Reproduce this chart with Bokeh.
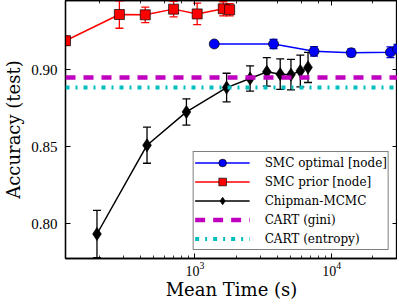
from bokeh.plotting import figure
from bokeh.models import (Range1d, LogAxis, LinearAxis, Whisker, TeeHead, ColumnDataSource,
                          Span, Legend, LegendItem, SingleIntervalTicker, NumeralTickFormatter)
from bokeh.embed import file_html
from bokeh.resources import INLINE

# ---- data ----
smc_opt_time = [1384, 3758, 7430, 13900, 26900, 30300]
smc_opt_acc = [0.9168, 0.9168, 0.9120, 0.9111, 0.9114, 0.9135]
smc_opt_err = [0.0015, 0.003, 0.003, 0.0025, 0.0035, 0.003]

smc_prior_time = [113, 280, 433, 698, 1038, 1611, 1794]
smc_prior_acc = [0.9189, 0.9359, 0.9357, 0.9394, 0.9363, 0.9396, 0.9390]
smc_prior_err = [0.003, 0.0089, 0.005, 0.005, 0.007, 0.0046, 0.004]

chip_time = [192, 446, 866, 1704, 2530, 3355, 4203, 5037, 5897, 6714]
chip_acc = [0.7935, 0.8511, 0.8727, 0.8885, 0.8944, 0.8987, 0.8972, 0.8969, 0.8993, 0.9016]
chip_err = [0.0153, 0.0117, 0.0085, 0.0093, 0.0082, 0.0092, 0.0099, 0.0099, 0.0103, 0.0098]

cart_gini = 0.895
cart_entropy = 0.8885

labels = ["SMC optimal [node]", "SMC prior [node]", "Chipman-MCMC", "CART (gini)", "CART (entropy)"]

TICK_FONT = "Liberation Serif"
LABEL_FONT = "DejaVu Serif"

p = figure(width=397, height=302, x_axis_type="log",
           x_range=Range1d(113, 30300), y_range=Range1d(0.7776, 0.945),
           output_backend="svg", toolbar_location=None,
           min_border_left=58, min_border_right=0, min_border_top=0, min_border_bottom=40,
           background_fill_color="white", border_fill_color="white")
p.xgrid.visible = False
p.ygrid.visible = False
p.outline_line_color = "black"
p.outline_line_width = 1.3

p.xaxis.axis_label = "Mean Time (s)"
p.yaxis.axis_label = "Accuracy (test)"
p.yaxis.ticker = SingleIntervalTicker(interval=0.05, num_minor_ticks=0)
p.yaxis.formatter = NumeralTickFormatter(format="0.00")

def style_axis(ax, labels_on=True):
    ax.axis_line_color = "black"
    ax.axis_line_width = 1.3
    ax.major_tick_in = 5
    ax.major_tick_out = 0
    ax.minor_tick_in = 3
    ax.minor_tick_out = 0
    ax.major_tick_line_color = "black"
    ax.minor_tick_line_color = "black"
    ax.major_tick_line_width = 1.0
    ax.minor_tick_line_width = 0.8
    if labels_on:
        ax.major_label_text_font = TICK_FONT
        ax.major_label_text_color = "black"
        ax.axis_label_text_font = LABEL_FONT
        ax.axis_label_text_font_style = "normal"
        ax.axis_label_text_color = "black"
        ax.axis_label_text_font_size = "18px"
    else:
        ax.major_label_text_font_size = "1px"
        ax.major_label_text_alpha = 0.0
        ax.major_label_standoff = 0
        ax.axis_label_standoff = 0

for ax in p.xaxis:
    style_axis(ax)
    ax.major_label_text_font_size = "14px"
    ax.major_label_standoff = 3
    ax.axis_label_standoff = 0
for ax in p.yaxis:
    style_axis(ax)
    ax.major_label_text_font_size = "15px"
    ax.major_label_standoff = 8
    ax.axis_label_standoff = 4

top_ax = LogAxis()
style_axis(top_ax, labels_on=False)
p.add_layout(top_ax, "above")
right_ax = LinearAxis(ticker=SingleIntervalTicker(interval=0.05, num_minor_ticks=0))
style_axis(right_ax, labels_on=False)
p.add_layout(right_ax, "right")

# ---- CART reference lines ----
MAG = "#bf00bf"
CYAN = "#00bfbf"
p.add_layout(Span(location=cart_gini, dimension="width", line_color=MAG, line_width=4.5,
                  line_dash="10 8", line_cap="butt"))
p.add_layout(Span(location=cart_entropy, dimension="width", line_color=CYAN, line_width=4,
                  line_dash="4 6 2 6", line_cap="butt"))
gini_leg = p.line(x=[cart_gini], y=[cart_gini], line_color=MAG, line_width=4.5,
                  line_dash="10 8", line_cap="butt")
ent_leg = p.line(x=[cart_entropy], y=[cart_entropy], line_color=CYAN, line_width=4,
                 line_dash="4 6 2 6", line_cap="butt")

def series(t, a, e, color, marker, size, fill):
    src = ColumnDataSource(dict(t=t, a=a, up=[v + d for v, d in zip(a, e)],
                                lo=[v - d for v, d in zip(a, e)]))
    w = Whisker(source=src, base="t", upper="up", lower="lo", dimension="height",
                line_color=color, line_width=1.3, level="underlay",
                upper_head=TeeHead(size=8, line_color=color, line_width=1.3),
                lower_head=TeeHead(size=8, line_color=color, line_width=1.3))
    p.add_layout(w)
    ln = p.line("t", "a", source=src, line_color=color, line_width=1.5)
    sc = p.scatter("t", "a", source=src, marker=marker, size=size, fill_color=fill,
                   line_color="black", line_width=0.7)
    return ln, sc

blue = series(smc_opt_time, smc_opt_acc, smc_opt_err, "#0000ff", "circle", 10, "#0000ff")
red = series(smc_prior_time, smc_prior_acc, smc_prior_err, "#ff0000", "square", 10, "#ff0000")
black = series(chip_time, chip_acc, chip_err, "black", "diamond", 13, "black")

legend = Legend(items=[
    LegendItem(label=labels[0], renderers=list(blue)),
    LegendItem(label=labels[1], renderers=list(red)),
    LegendItem(label=labels[2], renderers=list(black)),
    LegendItem(label=labels[3], renderers=[gini_leg]),
    LegendItem(label=labels[4], renderers=[ent_leg]),
], location="bottom_right", margin=8, padding=1, spacing=0,
    glyph_height=19, label_height=19, glyph_width=55, label_standoff=15,
    label_text_font=LABEL_FONT, label_text_font_size="12px", label_text_color="black",
    border_line_color="black", border_line_width=1.5, background_fill_alpha=1.0)
p.add_layout(legend)

open("out.html", "w").write(file_html(p, INLINE))
